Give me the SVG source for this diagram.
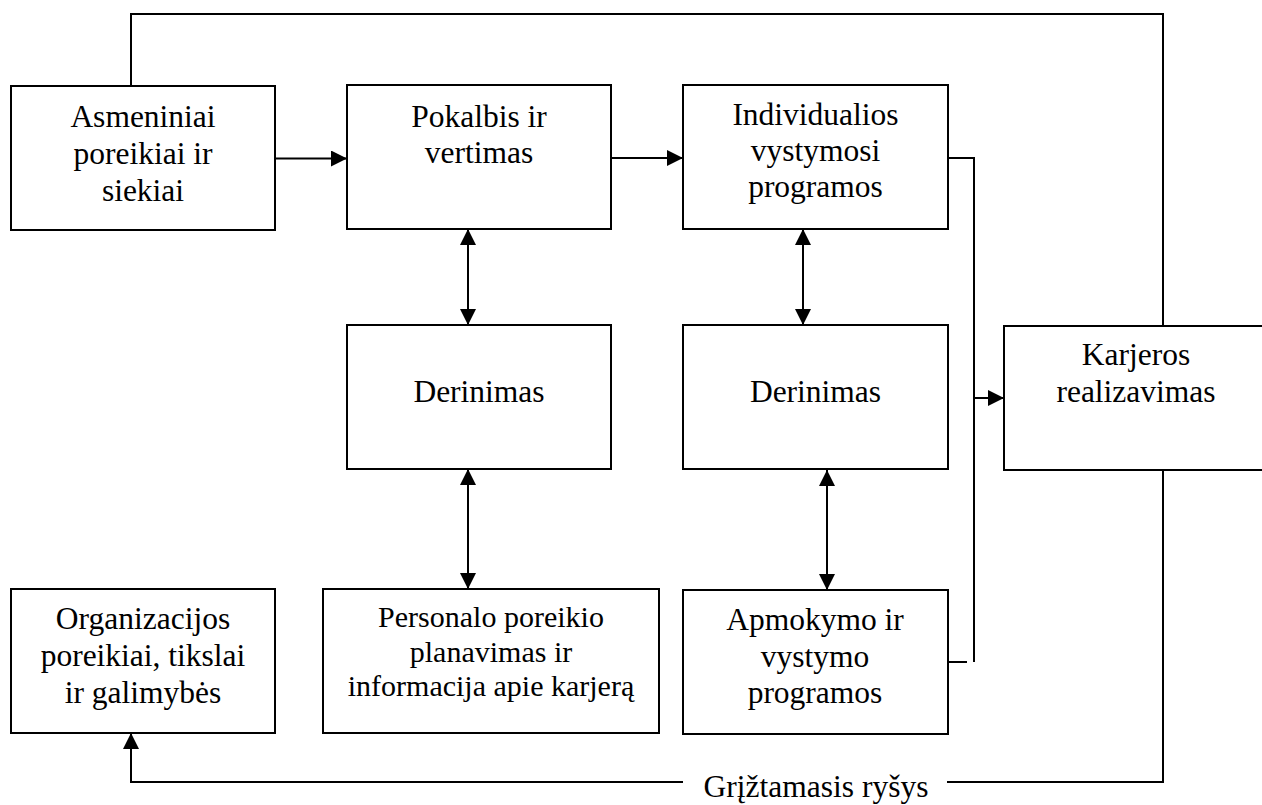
<svg xmlns="http://www.w3.org/2000/svg" width="1262" height="805" viewBox="0 0 1262 805">
<defs>
<marker id="ah" markerUnits="userSpaceOnUse" markerWidth="16" markerHeight="16" refX="16" refY="8" orient="auto-start-reverse" viewBox="0 0 16 16">
<path d="M0,0 L16,8 L0,16 z" fill="#000"/>
</marker>
<style>
.box{fill:#fff;stroke:#000;stroke-width:2}
.t{font-family:'Liberation Serif','Times New Roman',serif;font-size:31.5px;fill:#000;text-anchor:middle}
.s{font-size:30px}
.c{fill:none;stroke:#000;stroke-width:2}
</style>
</defs>
<rect width="1262" height="805" fill="#fff"/>
<g id="connectors">
<polyline class="c" points="131,86 131,14 1163,14 1163,326"/>
<line class="c" x1="275" y1="158.5" x2="347" y2="158.5" marker-end="url(#ah)"/>
<line class="c" x1="612" y1="158" x2="683" y2="158" marker-end="url(#ah)"/>
<line class="c" x1="468" y1="229" x2="468" y2="325" marker-start="url(#ah)" marker-end="url(#ah)"/>
<line class="c" x1="468" y1="469" x2="468" y2="589" marker-start="url(#ah)" marker-end="url(#ah)"/>
<line class="c" x1="803" y1="229" x2="803" y2="325" marker-start="url(#ah)" marker-end="url(#ah)"/>
<line class="c" x1="827" y1="470" x2="827" y2="590" marker-start="url(#ah)" marker-end="url(#ah)"/>
<polyline class="c" points="948,158 974,158 974,662"/>
<line class="c" x1="944" y1="662" x2="967" y2="662"/>
<line class="c" x1="974" y1="398" x2="1004" y2="398" marker-end="url(#ah)"/>
<polyline class="c" points="1163,470 1163,782 947,782"/>
<polyline class="c" points="683,782 131,782 131,733" marker-end="url(#ah)"/>
<text class="t" x="816" y="797">Grįžtamasis ryšys</text>
</g>
<g id="asmeniniai">
<rect class="box" x="11" y="86" width="264" height="144"/>
<text class="t" x="143" y="127">Asmeniniai</text>
<text class="t" x="143" y="164">poreikiai ir</text>
<text class="t" x="143" y="201">siekiai</text>
</g>
<g id="pokalbis">
<rect class="box" x="347" y="85" width="264" height="144"/>
<text class="t" x="479" y="127">Pokalbis ir</text>
<text class="t" x="479" y="163">vertimas</text>
</g>
<g id="individualios">
<rect class="box" x="683" y="85" width="265" height="144"/>
<text class="t" x="815.5" y="125">Individualios</text>
<text class="t" x="815.5" y="161">vystymosi</text>
<text class="t" x="815.5" y="197">programos</text>
</g>
<g id="derinimas1">
<rect class="box" x="347" y="325" width="264" height="144"/>
<text class="t" x="479" y="402">Derinimas</text>
</g>
<g id="derinimas2">
<rect class="box" x="683" y="325" width="265" height="144"/>
<text class="t" x="815.5" y="402">Derinimas</text>
</g>
<g id="karjeros">
<rect class="box" x="1004" y="326" width="270" height="144"/>
<text class="t" x="1136" y="365">Karjeros</text>
<text class="t" x="1136" y="401.5">realizavimas</text>
</g>
<g id="organizacijos">
<rect class="box" x="11" y="589" width="264" height="144"/>
<text class="t" x="143" y="629">Organizacijos</text>
<text class="t" x="143" y="666">poreikiai, tikslai</text>
<text class="t" x="143" y="703">ir galimybės</text>
</g>
<g id="personalo">
<rect class="box" x="323" y="589" width="336" height="144"/>
<text class="t s" x="491" y="627">Personalo poreikio</text>
<text class="t s" x="491" y="662">planavimas ir</text>
<text class="t s" x="491" y="696">informacija apie karjerą</text>
</g>
<g id="apmokymo">
<rect class="box" x="683" y="590" width="265" height="144"/>
<text class="t" x="815" y="630">Apmokymo ir</text>
<text class="t" x="815" y="667">vystymo</text>
<text class="t" x="815" y="703">programos</text>
</g>
</svg>
